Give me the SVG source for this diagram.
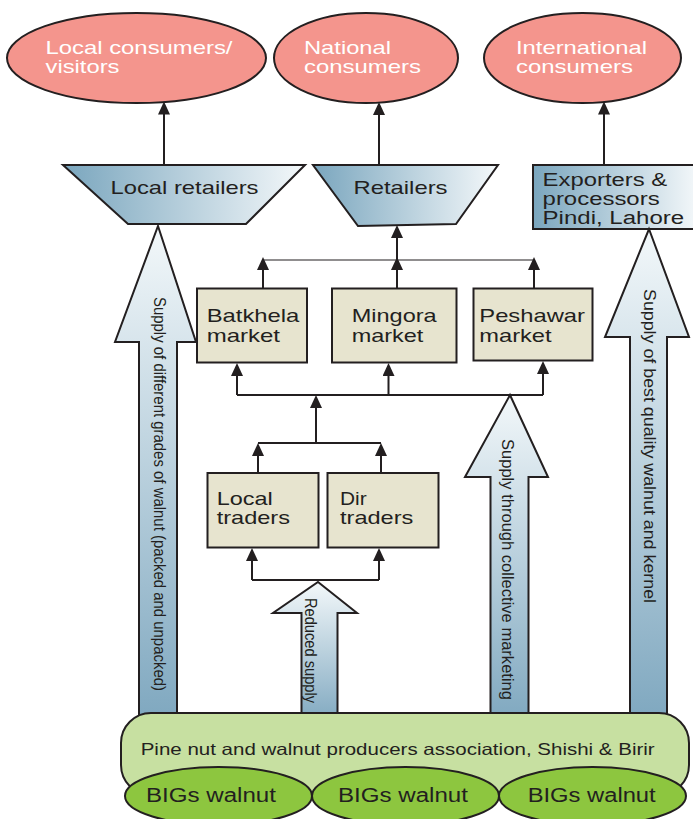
<svg xmlns="http://www.w3.org/2000/svg" width="693" height="819" viewBox="0 0 693 819">
<style>
.t{font-family:"Liberation Sans",Arial,Helvetica,sans-serif;fill:#231f20}
.w{font-family:"Liberation Sans",Arial,Helvetica,sans-serif;fill:#ffffff}
.st{stroke:#231f20;stroke-width:2}
.ln{stroke:#231f20;stroke-width:2;fill:none}
.thin{stroke:#231f20;stroke-width:1.2;fill:none}
.pink{fill:#f4958d}
.beige{fill:#e7e4cf}
</style>
<defs>
<marker id="ah" viewBox="0 0 13 12" refX="10" refY="6" markerWidth="13" markerHeight="12" markerUnits="userSpaceOnUse" orient="auto">
<path d="M0,0 L13,6 L0,12 z" fill="#231f20"/>
</marker>
<linearGradient id="gh" x1="0" y1="0" x2="1" y2="0">
<stop offset="0" stop-color="#7aa6be"/>
<stop offset="1" stop-color="#f4f8fa"/>
</linearGradient>
<linearGradient id="gv" x1="0" y1="0" x2="0" y2="1">
<stop offset="0" stop-color="#f3f8fa"/>
<stop offset="1" stop-color="#7ea7bf"/>
</linearGradient>
</defs>

<!-- top consumer ellipses -->
<g id="local-consumers">
<ellipse class="pink st" cx="136.5" cy="58" rx="129.5" ry="45"/>
<text class="w" font-size="18.5" x="45.5" y="54" textLength="187" lengthAdjust="spacingAndGlyphs">Local consumers/</text>
<text class="w" font-size="18.5" x="45.5" y="73" textLength="74" lengthAdjust="spacingAndGlyphs">visitors</text>
</g>
<g id="national-consumers">
<ellipse class="pink st" cx="366" cy="58" rx="92" ry="45"/>
<text class="w" font-size="18.5" x="304" y="54" textLength="87" lengthAdjust="spacingAndGlyphs">National</text>
<text class="w" font-size="18.5" x="304" y="73" textLength="117" lengthAdjust="spacingAndGlyphs">consumers</text>
</g>
<g id="international-consumers">
<ellipse class="pink st" cx="582.5" cy="58" rx="98.5" ry="45"/>
<text class="w" font-size="18.5" x="516" y="54" textLength="131" lengthAdjust="spacingAndGlyphs">International</text>
<text class="w" font-size="18.5" x="516" y="73" textLength="117" lengthAdjust="spacingAndGlyphs">consumers</text>
</g>

<!-- retailers -->
<g id="local-retailers">
<polygon class="st" fill="url(#gh)" points="63,165 305,165 246,224 128,224"/>
<text class="t" font-size="19" x="110.5" y="194" textLength="148" lengthAdjust="spacingAndGlyphs">Local retailers</text>
</g>
<g id="retailers">
<polygon class="st" fill="url(#gh)" points="313,165 498,165 456,224 358,226"/>
<text class="t" font-size="19" x="353.5" y="194" textLength="94" lengthAdjust="spacingAndGlyphs">Retailers</text>
</g>
<g id="exporters">
<rect class="st" fill="url(#gh)" x="533" y="165" width="165" height="64"/>
<text class="t" font-size="18" x="542.6" y="186" textLength="124.6" lengthAdjust="spacingAndGlyphs">Exporters &amp;</text>
<text class="t" font-size="18" x="542.6" y="205" textLength="117" lengthAdjust="spacingAndGlyphs">processors</text>
<text class="t" font-size="18" x="542.6" y="224" textLength="141.5" lengthAdjust="spacingAndGlyphs">Pindi, Lahore</text>
</g>

<!-- markets -->
<g id="batkhela">
<rect class="beige st" x="197" y="288.5" width="110" height="74"/>
<text class="t" font-size="18.6" x="206.7" y="321.7" textLength="92.7" lengthAdjust="spacingAndGlyphs">Batkhela</text>
<text class="t" font-size="18.6" x="206.7" y="341.7" textLength="73.3" lengthAdjust="spacingAndGlyphs">market</text>
</g>
<g id="mingora">
<rect class="beige st" x="332" y="288.5" width="124.5" height="74"/>
<text class="t" font-size="18.6" x="351.7" y="321.7" textLength="85" lengthAdjust="spacingAndGlyphs">Mingora</text>
<text class="t" font-size="18.6" x="351.7" y="341.7" textLength="71.7" lengthAdjust="spacingAndGlyphs">market</text>
</g>
<g id="peshawar">
<rect class="beige st" x="473.5" y="288.5" width="119" height="72"/>
<text class="t" font-size="18.6" x="479.3" y="321.7" textLength="105.7" lengthAdjust="spacingAndGlyphs">Peshawar</text>
<text class="t" font-size="18.6" x="479.3" y="341.7" textLength="72.3" lengthAdjust="spacingAndGlyphs">market</text>
</g>

<!-- traders -->
<g id="local-traders">
<rect class="beige st" x="207.5" y="473" width="111" height="74.5"/>
<text class="t" font-size="18.6" x="216.7" y="505" textLength="56" lengthAdjust="spacingAndGlyphs">Local</text>
<text class="t" font-size="18.6" x="216.7" y="524" textLength="73.3" lengthAdjust="spacingAndGlyphs">traders</text>
</g>
<g id="dir-traders">
<rect class="beige st" x="327.5" y="473" width="111" height="74.5"/>
<text class="t" font-size="18.6" x="340" y="505" textLength="26.7" lengthAdjust="spacingAndGlyphs">Dir</text>
<text class="t" font-size="18.6" x="340" y="524" textLength="73.3" lengthAdjust="spacingAndGlyphs">traders</text>
</g>

<!-- connectors -->
<g id="connectors">
<path class="ln" marker-end="url(#ah)" d="M164,165 V104.5"/>
<path class="ln" marker-end="url(#ah)" d="M379,165 V105"/>
<path class="ln" marker-end="url(#ah)" d="M604,165 V104.5"/>
<path class="ln" marker-end="url(#ah)" d="M397,260 V228"/>
<path class="thin" d="M263,260 H534"/>
<path class="ln" marker-end="url(#ah)" d="M263,288 V260"/>
<path class="ln" marker-end="url(#ah)" d="M397,288 V260"/>
<path class="ln" marker-end="url(#ah)" d="M534,288 V260"/>
<path class="ln" d="M237,395 H543"/>
<path class="ln" marker-end="url(#ah)" d="M237,395 V366"/>
<path class="ln" marker-end="url(#ah)" d="M388.5,395 V366"/>
<path class="ln" marker-end="url(#ah)" d="M543,395 V364"/>
<path class="ln" marker-end="url(#ah)" d="M316,443 V398"/>
<path class="ln" d="M258,443 H381"/>
<path class="ln" marker-end="url(#ah)" d="M258,473 V446"/>
<path class="ln" marker-end="url(#ah)" d="M381,473 V446"/>
<path class="ln" d="M252,580 H379"/>
<path class="ln" marker-end="url(#ah)" d="M252,580 V551"/>
<path class="ln" marker-end="url(#ah)" d="M379,580 V551"/>
</g>

<!-- big supply arrows -->
<g id="supply-grades">
<polygon class="st" fill="url(#gv)" points="158,226 196,342 177,342 177,725 139,725 139,342 115,342"/>
<text class="t" font-size="16.5" transform="translate(154,297) rotate(90)" textLength="394" lengthAdjust="spacingAndGlyphs">Supply of different grades of walnut (packed and unpacked)</text>
</g>
<g id="supply-best">
<polygon class="st" fill="url(#gv)" points="649,229 689,337 667,337 667,725 630,725 630,337 605,337"/>
<text class="t" font-size="16.5" transform="translate(644,289) rotate(90)" textLength="314" lengthAdjust="spacingAndGlyphs">Supply of best quality walnut and kernel</text>
</g>
<g id="supply-collective">
<polygon class="st" fill="url(#gv)" points="510,395 548,477 528.5,477 528.5,725 490.5,725 490.5,477 465,477"/>
<text class="t" font-size="16.5" transform="translate(502,439) rotate(90)" textLength="261" lengthAdjust="spacingAndGlyphs">Supply through collective marketing</text>
</g>
<g id="reduced-supply">
<polygon class="st" fill="url(#gv)" points="318,582 357,613 337.5,613 337.5,725 301.5,725 301.5,613 273,613"/>
<text class="t" font-size="16.5" transform="translate(304.5,598) rotate(90)" textLength="105" lengthAdjust="spacingAndGlyphs">Reduced supply</text>
</g>

<!-- producers association -->
<g id="association">
<rect class="st" fill="#c7e0a1" x="121" y="713" width="568" height="82" rx="30" ry="30"/>
<text class="t" font-size="16.5" x="140.7" y="755" textLength="514" lengthAdjust="spacingAndGlyphs">Pine nut and walnut producers association, Shishi &amp; Birir</text>
</g>
<g id="bigs-1">
<ellipse class="st" fill="#8dc63f" cx="218.5" cy="796" rx="93.5" ry="29"/>
<text class="t" font-size="19.5" x="146" y="802" textLength="130" lengthAdjust="spacingAndGlyphs">BIGs walnut</text>
</g>
<g id="bigs-2">
<ellipse class="st" fill="#8dc63f" cx="405.5" cy="796" rx="93.5" ry="29"/>
<text class="t" font-size="19.5" x="338" y="802" textLength="130" lengthAdjust="spacingAndGlyphs">BIGs walnut</text>
</g>
<g id="bigs-3">
<ellipse class="st" fill="#8dc63f" cx="592.5" cy="796" rx="93.5" ry="29"/>
<text class="t" font-size="19.5" x="527.7" y="802" textLength="128" lengthAdjust="spacingAndGlyphs">BIGs walnut</text>
</g>
</svg>
